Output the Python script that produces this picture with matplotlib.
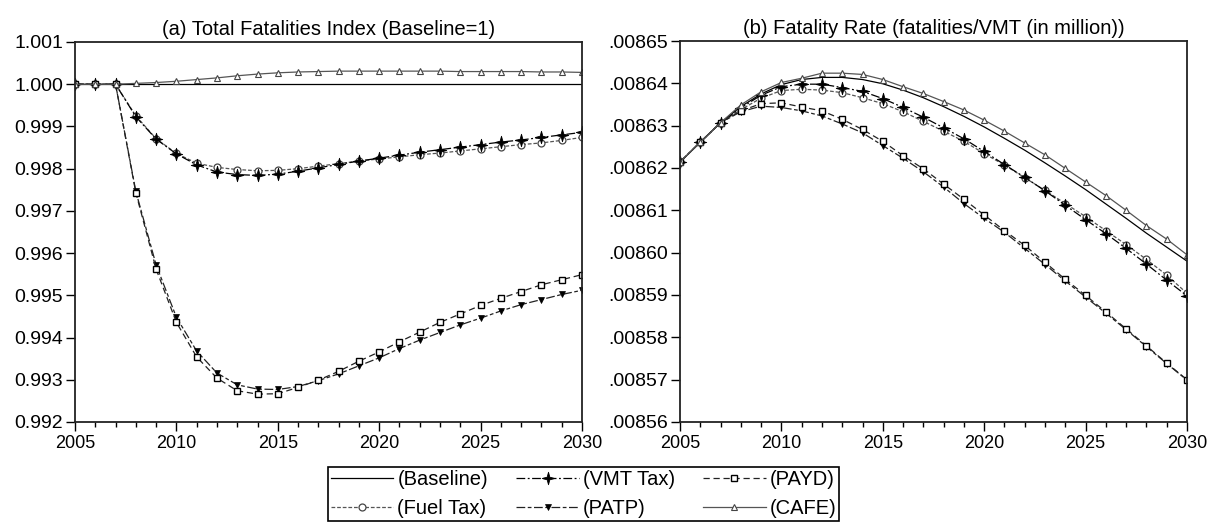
import matplotlib
matplotlib.use("Agg")
import matplotlib.pyplot as plt
from matplotlib.path import Path
from matplotlib.ticker import MultipleLocator, FuncFormatter

plt.rcParams['font.family'] = ['Liberation Sans', 'DejaVu Sans']

years = [2005, 2006, 2007, 2008, 2009, 2010, 2011, 2012, 2013, 2014, 2015, 2016, 2017,
         2018, 2019, 2020, 2021, 2022, 2023, 2024, 2025, 2026, 2027, 2028, 2029, 2030]

# (a) total fatalities index, baseline = 1
base_idx = [1.0, 1.0, 1.0, 1.0, 1.0, 1.0, 1.0, 1.0, 1.0, 1.0, 1.0, 1.0, 1.0,
            1.0, 1.0, 1.0, 1.0, 1.0, 1.0, 1.0, 1.0, 1.0, 1.0, 1.0, 1.0, 1.0]
fuel_idx = [1.0, 1.0, 1.0, 0.99925, 0.99871, 0.99836, 0.99813, 0.99803, 0.99798, 0.99795, 0.99796, 0.99800, 0.99806,
            0.99812, 0.99818, 0.99823, 0.99828, 0.99833, 0.99837, 0.99842, 0.99847, 0.99852, 0.99857, 0.99861, 0.99867, 0.99874]
vmt_idx = [1.0, 1.0, 1.0, 0.99923, 0.99870, 0.99835, 0.99809, 0.99792, 0.99786, 0.99784, 0.99787, 0.99794, 0.99802,
           0.99810, 0.99818, 0.99825, 0.99832, 0.99839, 0.99845, 0.99851, 0.99857, 0.99863, 0.99868, 0.99874, 0.99880, 0.99886]
patp_idx = [1.0, 1.0, 1.0, 0.99746, 0.99572, 0.99448, 0.99368, 0.99316, 0.99288, 0.99278, 0.99277, 0.99284, 0.99298,
            0.99314, 0.99333, 0.99352, 0.99374, 0.99394, 0.99412, 0.99430, 0.99446, 0.99463, 0.99478, 0.99490, 0.99502, 0.99512]
payd_idx = [1.0, 1.0, 1.0, 0.99743, 0.99562, 0.99436, 0.99354, 0.99304, 0.99274, 0.99266, 0.99267, 0.99282, 0.99299,
            0.99320, 0.99344, 0.99366, 0.99390, 0.99413, 0.99436, 0.99456, 0.99476, 0.99493, 0.99509, 0.99525, 0.99537, 0.99549]
cafe_idx = [1.0, 1.0, 1.0, 1.00002, 1.00004, 1.00007, 1.00011, 1.00015, 1.00020, 1.00024, 1.00027, 1.00029, 1.00030,
            1.00031, 1.00031, 1.00031, 1.00031, 1.00031, 1.00031, 1.00030, 1.00030, 1.00030, 1.00030, 1.00029, 1.00029, 1.00028]

# (b) fatality rate, fatalities per million VMT
base_rate = [.0086214, .0086261, .0086307, .0086345, .0086375, .0086397, .0086409, .0086414, .0086414, .0086409, .0086399, .0086384, .0086366,
             .0086345, .0086322, .0086297, .0086270, .0086242, .0086212, .0086181, .0086149, .0086115, .0086081, .0086046, .0086013, .0085980]
fuel_rate = [.0086214, .0086261, .0086307, .0086338, .0086365, .0086383, .0086386, .0086384, .0086378, .0086366, .0086352, .0086333, .0086310,
             .0086287, .0086263, .0086234, .0086207, .0086177, .0086147, .0086116, .0086085, .0086052, .0086019, .0085984, .0085947, .0085904]
vmt_rate = [.0086214, .0086261, .0086307, .0086342, .0086372, .0086392, .0086398, .0086398, .0086390, .0086381, .0086364, .0086343, .0086320,
            .0086295, .0086269, .0086239, .0086208, .0086178, .0086146, .0086112, .0086078, .0086045, .0086010, .0085973, .0085935, .0085898]
patp_rate = [.0086214, .0086261, .0086307, .0086333, .0086346, .0086343, .0086335, .0086323, .0086304, .0086283, .0086253, .0086223, .0086191,
             .0086155, .0086116, .0086081, .0086048, .0086010, .0085972, .0085933, .0085895, .0085857, .0085818, .0085778, .0085738, .0085699]
payd_rate = [.0086214, .0086261, .0086307, .0086335, .0086352, .0086354, .0086344, .0086335, .0086315, .0086291, .0086263, .0086229, .0086198,
             .0086162, .0086126, .0086089, .0086052, .0086017, .0085977, .0085937, .0085899, .0085860, .0085820, .0085780, .0085739, .0085700]
cafe_rate = [.0086214, .0086261, .0086307, .0086349, .0086380, .0086402, .0086412, .0086424, .0086424, .0086421, .0086409, .0086392, .0086376,
             .0086357, .0086337, .0086313, .0086287, .0086259, .0086231, .0086199, .0086167, .0086135, .0086100, .0086064, .0086032, .0085995]

labels = ['(Baseline)', '(Fuel Tax)', '(VMT Tax)', '(PATP)', '(PAYD)', '(CAFE)']

# thin 4-point star for the VMT tax marker
star4 = Path.unit_regular_star(4, innerCircle=0.3)

# line style per scenario
styles = [
    dict(color='black', ls='-', marker=None),
    dict(color='#555555', ls=(0, (3, 1.5)), marker='o', mfc='white', mec='#444444', ms=5, mew=0.9),
    dict(color='black', ls=(0, (7, 2, 1.5, 2)), marker=star4, mfc='black', mec='black', ms=9, mew=0.6),
    dict(color='#222222', ls=(0, (7, 2, 3, 2)), marker='v', mfc='black', mec='black', ms=5, mew=0.5),
    dict(color='#222222', ls=(0, (5, 3)), marker='s', mfc='white', mec='black', ms=5, mew=1.0),
    dict(color='#555555', ls='-', marker='^', mfc='white', mec='#444444', ms=5, mew=0.8),
]

fig = plt.figure(figsize=(12.13, 5.23), dpi=100)
ax1 = fig.add_axes([75 / 1213, 1 - 422 / 523, 507 / 1213, 380 / 523])
ax2 = fig.add_axes([680 / 1213, 1 - 422 / 523, 507 / 1213, 381 / 523])

left = [base_idx, fuel_idx, vmt_idx, patp_idx, payd_idx, cafe_idx]
right = [base_rate, fuel_rate, vmt_rate, patp_rate, payd_rate, cafe_rate]

handles = []
for i in range(6):
    s = styles[i]
    h, = ax1.plot(years, left[i], lw=0.9, label=labels[i], **s)
    ax2.plot(years, right[i], lw=0.9, **s)
    handles.append(h)

ax1.set_ylim(0.992, 1.001)
ax1.yaxis.set_major_locator(MultipleLocator(0.001))
ax1.yaxis.set_major_formatter(FuncFormatter(lambda v, p: f"{v:.3f}"))
ax1.set_title('(a) Total Fatalities Index (Baseline=1)', fontsize=14.5, pad=5)

ax2.set_ylim(0.00856, 0.00865)
ax2.yaxis.set_major_locator(MultipleLocator(0.00001))
ax2.yaxis.set_major_formatter(FuncFormatter(lambda v, p: f"{v:.5f}".lstrip('0')))
ax2.set_title('(b) Fatality Rate (fatalities/VMT (in million))', fontsize=14.5, pad=5)

for ax in (ax1, ax2):
    ax.set_xlim(2005, 2030)
    ax.xaxis.set_major_locator(MultipleLocator(5))
    ax.xaxis.set_minor_locator(MultipleLocator(1))
    ax.tick_params(axis='x', which='major', direction='out', length=6.5, width=1.0, labelsize=13, pad=3)
    ax.tick_params(axis='x', which='minor', direction='out', length=3.6, width=1.0)
    ax.tick_params(axis='y', which='major', direction='out', length=6.5, width=1.0, labelsize=14, pad=2)
    for sp in ax.spines.values():
        sp.set_linewidth(1.3)
        sp.set_color('#222222')

leg = fig.legend(handles=handles, loc='upper left', bbox_to_anchor=(328 / 1213, 1 - 467 / 523),
                 ncol=3, fontsize=14.5, frameon=True, fancybox=False, framealpha=1,
                 edgecolor='black', borderpad=0.15, handlelength=3.1, handletextpad=0.2,
                 columnspacing=1.4, labelspacing=0.5, borderaxespad=0)
leg.get_frame().set_linewidth(1.2)

fig.savefig('out.png', dpi=100)
